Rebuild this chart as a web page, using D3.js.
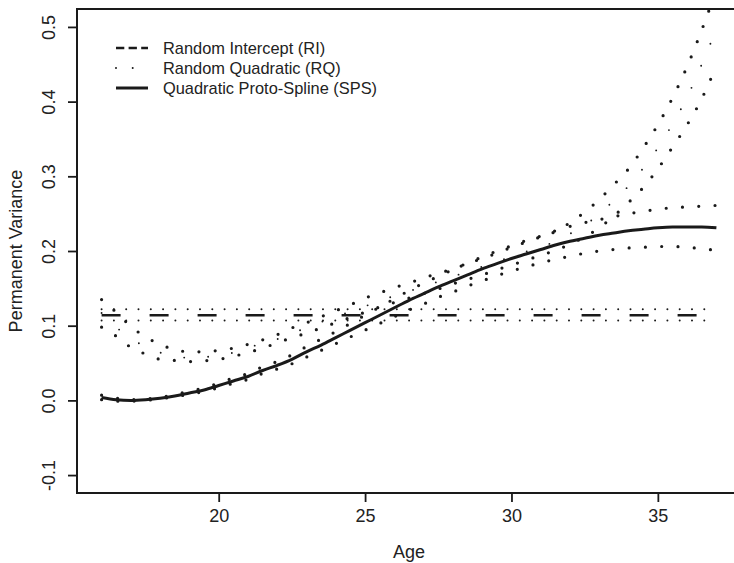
<!DOCTYPE html>
<html>
<head>
<meta charset="utf-8">
<script src="https://cdn.jsdelivr.net/npm/d3@7"></script>
<style>
  body { margin: 0; background: #fff; }
  text { font-family: "Liberation Sans", Arial, sans-serif; fill: #222; }
</style>
</head>
<body>
<div id="chart"></div>
<script>
/* global d3 */

// Ages at which each curve was evaluated
const ages = [16, 16.5, 17, 17.5, 18, 18.5, 19, 19.5, 20, 20.5,
  21, 21.5, 22, 22.5, 23, 23.5, 24, 24.5, 25, 25.5,
  26, 26.5, 27, 27.5, 28, 28.5, 29, 29.5, 30, 30.5,
  31, 31.5, 32, 32.5, 33, 33.5, 34, 34.5, 35, 35.5,
  36, 36.5, 37];

// Random Intercept (constant)
const riAges = [16, 37];
const riEst = [0.114, 0.114];
const riUpper = [0.122, 0.122];
const riLower = [0.107, 0.107];

// Random Quadratic
const rqEst = [0.117, 0.098, 0.083, 0.072, 0.064, 0.059, 0.057, 0.058, 0.060, 0.064,
  0.070, 0.077, 0.082, 0.090, 0.097, 0.105, 0.112, 0.119, 0.126, 0.133,
  0.140, 0.146, 0.153, 0.159, 0.166, 0.172, 0.179, 0.186, 0.192, 0.199,
  0.205, 0.213, 0.223, 0.235, 0.249, 0.268, 0.287, 0.311, 0.338, 0.370,
  0.406, 0.450, 0.497];
const rqUpper = [0.135, 0.118, 0.099, 0.085, 0.075, 0.068, 0.065, 0.065, 0.067, 0.070,
  0.075, 0.081, 0.088, 0.097, 0.104, 0.112, 0.120, 0.128, 0.137, 0.144,
  0.151, 0.157, 0.164, 0.170, 0.176, 0.183, 0.190, 0.197, 0.205, 0.212,
  0.219, 0.226, 0.238, 0.252, 0.269, 0.289, 0.310, 0.338, 0.369, 0.405,
  0.447, 0.496, 0.550];
const rqLower = [0.098, 0.086, 0.071, 0.062, 0.055, 0.0535, 0.052, 0.053, 0.055, 0.059,
  0.064, 0.070, 0.077, 0.084, 0.090, 0.097, 0.104, 0.111, 0.118, 0.125,
  0.131, 0.137, 0.143, 0.149, 0.156, 0.162, 0.168, 0.175, 0.181, 0.188,
  0.194, 0.201, 0.209, 0.219, 0.231, 0.247, 0.265, 0.285, 0.310, 0.339,
  0.369, 0.404, 0.448];

// Quadratic Proto-Spline
const spsEst = [0.004, 0.001, 0.000, 0.001, 0.003, 0.006, 0.010, 0.014, 0.020, 0.026,
  0.032, 0.040, 0.047, 0.055, 0.065, 0.074, 0.084, 0.094, 0.104, 0.114,
  0.124, 0.134, 0.143, 0.152, 0.160, 0.168, 0.176, 0.183, 0.190, 0.196,
  0.202, 0.208, 0.213, 0.217, 0.221, 0.224, 0.227, 0.229, 0.231, 0.232,
  0.232, 0.232, 0.231];
const spsUpper = [0.007, 0.003, 0.001, 0.002, 0.004, 0.008, 0.012, 0.017, 0.023, 0.030,
  0.036, 0.045, 0.052, 0.061, 0.072, 0.082, 0.092, 0.103, 0.114, 0.125,
  0.136, 0.147, 0.157, 0.166, 0.175, 0.184, 0.192, 0.200, 0.207, 0.214,
  0.220, 0.227, 0.233, 0.238, 0.242, 0.246, 0.250, 0.253, 0.256, 0.258,
  0.259, 0.260, 0.261];
const spsLower = [0.001, -0.001, -0.001, 0.000, 0.002, 0.005, 0.008, 0.012, 0.017, 0.023,
  0.028, 0.036, 0.042, 0.049, 0.058, 0.067, 0.076, 0.085, 0.094, 0.103,
  0.112, 0.121, 0.129, 0.138, 0.145, 0.153, 0.160, 0.167, 0.173, 0.179,
  0.184, 0.189, 0.193, 0.197, 0.200, 0.202, 0.204, 0.205, 0.206, 0.206,
  0.205, 0.203, 0.201];

const xTicks = [20, 25, 30, 35];
const yTicks = [-0.1, 0.0, 0.1, 0.2, 0.3, 0.4, 0.5];
const yTickLabels = ["-0.1", "0.0", "0.1", "0.2", "0.3", "0.4", "0.5"];
const legendLabels = ["Random Intercept (RI)", "Random Quadratic (RQ)", "Quadratic Proto-Spline (SPS)"];

const W = 734, H = 563;
const margin = { top: 9, right: -7, bottom: 70, left: 77 };
const plotW = W - margin.left - margin.right;
const plotH = H - margin.top - margin.bottom;

const x = d3.scaleLinear().domain([15.16, 37.84]).range([0, plotW]);
const y = d3.scaleLinear().domain([-0.124, 0.524]).range([plotH, 0]);

const svg = d3.select("#chart").append("svg")
  .attr("width", W)
  .attr("height", H);

svg.append("defs").append("clipPath").attr("id", "clip")
  .append("rect").attr("width", plotW).attr("height", plotH);

const g = svg.append("g")
  .attr("transform", `translate(${margin.left},${margin.top})`);

const line = (xs, ys) => d3.line()
  .x((d, i) => x(xs[i]))
  .y(d => y(d))
  .curve(d3.curveMonotoneX)(ys);

const plot = g.append("g").attr("clip-path", "url(#clip)");

// Styles: dotted lines are round-capped zero-length dashes
const styles = {
  riBand: { w: 2, dash: "0,12.3", cap: "round" },
  riEst: { w: 2.7, dash: "19,29", cap: "butt" },
  rqBand: { w: 3.2, dash: "0,16.3", cap: "round" },
  rqEst: { w: 1.9, dash: "0,24", cap: "round" },
  spsBand: { w: 3.2, dash: "0,16.3", cap: "round" },
  spsEst: { w: 3, dash: null, cap: "butt" }
};

const series = [
  [riAges, riUpper, styles.riBand],
  [riAges, riLower, styles.riBand],
  [riAges, riEst, styles.riEst],
  [ages, rqUpper, styles.rqBand],
  [ages, rqLower, styles.rqBand],
  [ages, rqEst, styles.rqEst],
  [ages, spsUpper, styles.spsBand],
  [ages, spsLower, styles.spsBand],
  [ages, spsEst, styles.spsEst]
];

series.forEach(([xs, ys, s]) => {
  plot.append("path")
    .attr("d", line(xs, ys))
    .attr("fill", "none")
    .attr("stroke", "#1a1a1a")
    .attr("stroke-width", s.w)
    .attr("stroke-linecap", s.cap)
    .attr("stroke-dasharray", s.dash);
});

// Frame (right side falls outside the picture)
g.append("path")
  .attr("d", `M${plotW},0H0V${plotH}H${plotW}`)
  .attr("fill", "none")
  .attr("stroke", "#1a1a1a")
  .attr("stroke-width", 2);

// X axis
const xAxis = g.append("g")
  .attr("transform", `translate(0,${plotH})`)
  .call(d3.axisBottom(x).tickValues(xTicks).tickSize(9).tickPadding(7));
xAxis.select(".domain").remove();
xAxis.selectAll("line").attr("stroke", "#1a1a1a").attr("stroke-width", 1.8);
xAxis.selectAll("text").attr("font-size", 18).attr("fill", "#222")
  .attr("font-family", "Liberation Sans, Arial, sans-serif");

// Y axis with labels parallel to the axis
const yAxis = g.append("g")
  .call(d3.axisLeft(y).tickValues(yTicks).tickSize(9)
    .tickFormat((d, i) => yTickLabels[i]));
yAxis.select(".domain").remove();
yAxis.selectAll("line").attr("stroke", "#1a1a1a").attr("stroke-width", 1.8);
yAxis.selectAll("text")
  .attr("font-size", 18).attr("fill", "#222")
  .attr("font-family", "Liberation Sans, Arial, sans-serif")
  .attr("x", null).attr("dy", null)
  .attr("text-anchor", "middle")
  .attr("transform", "translate(-22,0) rotate(-90)");

// Axis titles
g.append("text")
  .attr("x", plotW / 2)
  .attr("y", plotH + 65)
  .attr("text-anchor", "middle")
  .attr("font-size", 18)
  .text("Age");

g.append("text")
  .attr("transform", `translate(${-55},${plotH / 2}) rotate(-90)`)
  .attr("text-anchor", "middle")
  .attr("font-size", 18)
  .text("Permanent Variance");

// Legend
const legendStyles = [
  { w: 2.6, dash: "8.3,4.3", cap: "butt" },
  { w: 2, dash: "0,16.7", cap: "round" },
  { w: 3, dash: null, cap: "butt" }
];
const legend = g.append("g").attr("transform", "translate(39,39)");
legendLabels.forEach((label, i) => {
  const row = legend.append("g").attr("transform", `translate(0,${i * 20})`);
  row.append("line")
    .attr("x1", 0).attr("x2", 32)
    .attr("stroke", "#1a1a1a")
    .attr("stroke-width", legendStyles[i].w)
    .attr("stroke-linecap", legendStyles[i].cap)
    .attr("stroke-dasharray", legendStyles[i].dash);
  row.append("text")
    .attr("x", 47)
    .attr("dy", "0.36em")
    .attr("font-size", 16.4)
    .text(label);
});
</script>
</body>
</html>
